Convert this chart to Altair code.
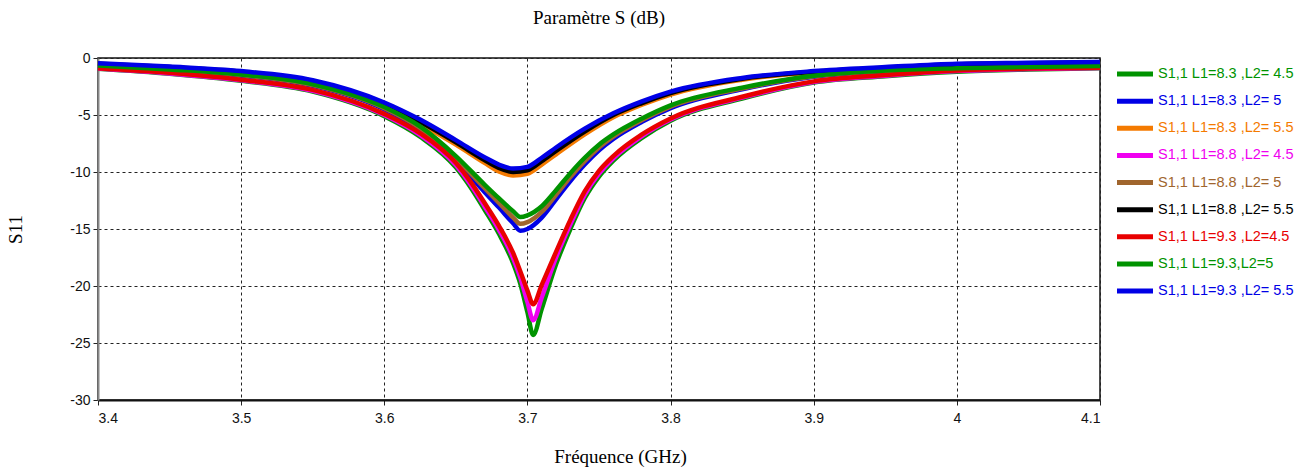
import altair as alt
import pandas as pd

# ---- data ----
labels = [
    "S1,1 L1=8.3 ,L2= 4.5",
    "S1,1 L1=8.3 ,L2= 5",
    "S1,1 L1=8.3 ,L2= 5.5",
    "S1,1 L1=8.8 ,L2= 4.5",
    "S1,1 L1=8.8 ,L2= 5",
    "S1,1 L1=8.8 ,L2= 5.5",
    "S1,1 L1=9.3 ,L2=4.5",
    "S1,1 L1=9.3,L2=5",
    "S1,1 L1=9.3 ,L2= 5.5",
]
colors = ["#009300", "#0000e6", "#f47a00", "#f000f0", "#a0652d",
          "#000000", "#e80000", "#009300", "#0000e6"]

# frequency grids (GHz) for each L2 group
freq_l2_55 = [3.40, 3.45, 3.50, 3.55, 3.60, 3.625, 3.65, 3.67, 3.68, 3.69, 3.70,
              3.71, 3.72, 3.74, 3.76, 3.78, 3.80, 3.85, 3.90, 3.95, 4.00, 4.05, 4.10]
freq_l2_5 = [3.40, 3.45, 3.50, 3.55, 3.60, 3.625, 3.65, 3.67, 3.68, 3.69, 3.695, 3.70,
             3.71, 3.72, 3.73, 3.74, 3.75, 3.76, 3.78, 3.80, 3.85, 3.90, 3.95, 4.00,
             4.05, 4.10]
freq_l2_45 = [3.40, 3.45, 3.50, 3.55, 3.60, 3.625, 3.65, 3.66, 3.67, 3.68, 3.69, 3.695,
              3.70, 3.704, 3.71, 3.72, 3.73, 3.74, 3.75, 3.76, 3.78, 3.80, 3.85, 3.90,
              3.95, 4.00, 4.05, 4.10]

# S11 (dB)
s_83_45 = [-0.94, -1.38, -2.0, -2.95, -5.1, -6.9, -9.6, -11.3, -13.3, -15.4, -18.0, -19.8,
           -22.3, -24.3, -22.0, -18.1, -15.0, -12.3, -10.4, -9.0, -7.0, -5.5, -3.55, -2.15,
           -1.6, -1.2, -1.0, -0.9]
s_83_5 = [-0.72, -1.08, -1.55, -2.45, -4.5, -6.3, -9.0, -11.75, -13.1, -14.5, -15.15, -15.0,
          -14.0, -12.4, -10.8, -9.35, -8.1, -7.1, -5.6, -4.4, -2.75, -1.65, -1.17, -0.97,
          -0.84, -0.76]
s_83_55 = [-0.55, -0.85, -1.25, -2.1, -4.2, -5.8, -7.6, -9.2, -9.95, -10.3, -10.15,
           -9.35, -8.45, -6.7, -5.2, -4.1, -3.2, -1.9, -1.25, -0.9, -0.62, -0.5, -0.42]
s_88_45 = [-0.92, -1.35, -1.95, -2.88, -5.0, -6.75, -9.4, -11.05, -13.0, -15.05, -17.55, -19.25,
           -21.4, -23.0, -21.0, -17.5, -14.6, -12.0, -10.15, -8.8, -6.85, -5.4, -3.48, -2.1,
           -1.55, -1.15, -0.97, -0.88]
s_88_5 = [-0.7, -1.04, -1.5, -2.38, -4.4, -6.15, -8.8, -11.4, -12.7, -14.0, -14.55, -14.4,
          -13.5, -12.0, -10.45, -9.05, -7.85, -6.9, -5.45, -4.27, -2.68, -1.6, -1.14, -0.94,
          -0.81, -0.73]
s_88_55 = [-0.5, -0.8, -1.2, -2.02, -4.05, -5.6, -7.4, -8.95, -9.65, -10.0, -9.85,
           -9.05, -8.15, -6.45, -5.0, -3.95, -3.07, -1.82, -1.2, -0.85, -0.56, -0.45, -0.38]
s_93_45 = [-0.9, -1.3, -1.9, -2.8, -4.9, -6.6, -9.2, -10.8, -12.7, -14.7, -17.1, -18.7,
           -20.4, -21.6, -19.9, -17.0, -14.2, -11.7, -9.9, -8.6, -6.7, -5.3, -3.4, -2.05,
           -1.5, -1.1, -0.93, -0.85]
s_93_5 = [-0.65, -1.0, -1.45, -2.3, -4.3, -6.0, -8.6, -11.1, -12.3, -13.45, -13.95, -13.8,
          -13.0, -11.6, -10.1, -8.75, -7.6, -6.7, -5.3, -4.15, -2.6, -1.55, -1.1, -0.9,
          -0.78, -0.7]
s_93_55 = [-0.45, -0.75, -1.15, -1.95, -3.9, -5.4, -7.2, -8.7, -9.35, -9.7, -9.55,
           -8.75, -7.85, -6.2, -4.85, -3.8, -2.95, -1.75, -1.15, -0.8, -0.5, -0.42, -0.35]

x_ticks = [3.4, 3.5, 3.6, 3.7, 3.8, 3.9, 4.0, 4.1]
y_ticks = [-30, -25, -20, -15, -10, -5, 0]

series = [
    (labels[0], freq_l2_45, s_83_45),
    (labels[1], freq_l2_5, s_83_5),
    (labels[2], freq_l2_55, s_83_55),
    (labels[3], freq_l2_45, s_88_45),
    (labels[4], freq_l2_5, s_88_5),
    (labels[5], freq_l2_55, s_88_55),
    (labels[6], freq_l2_45, s_93_45),
    (labels[7], freq_l2_5, s_93_5),
    (labels[8], freq_l2_55, s_93_55),
]
rows = []
for k, (name, fx, sy) in enumerate(series):
    for f, s in zip(fx, sy):
        rows.append({"series": name, "idx": k, "f": f, "s11": s})
df = pd.DataFrame(rows)
leg = pd.DataFrame({"series": labels, "idx": list(range(len(labels)))})

color = alt.Color("series:N", scale=alt.Scale(domain=labels, range=colors), legend=None)
tick_font = "Liberation Sans"

lines = alt.Chart(df).mark_line(strokeWidth=4.5, interpolate="monotone").encode(
    x=alt.X("f:Q", scale=alt.Scale(domain=[3.4, 4.1], nice=False),
            axis=alt.Axis(values=x_ticks, labelExpr="toString(datum.value)",
                          title="Fréquence (GHz)",
                          titleX=522, titlePadding=22, labelPadding=6, tickSize=5,
                          domainColor="#111", domainWidth=2)),
    y=alt.Y("s11:Q", scale=alt.Scale(domain=[-30, 0], nice=False, zero=False),
            axis=alt.Axis(values=y_ticks, labelExpr="toString(datum.value)",
                          title="S11", titlePadding=44, labelPadding=3,
                          tickSize=5, domainColor="#888", domainWidth=2)),
    color=color,
    detail="idx:O",
    order="idx:O",
)

leg_y = alt.Y("series:N", sort=labels,
              scale=alt.Scale(type="point", range=[16, 233], padding=0), axis=None)
leg_rules = alt.Chart(leg).mark_rule(strokeWidth=5).encode(
    x=alt.value(1019), x2=alt.value(1055), y=leg_y, color=color)
leg_text = alt.Chart(leg).mark_text(
    align="left", baseline="middle", font=tick_font, fontSize=14.5
).encode(x=alt.value(1060), y=leg_y, text="series:N", color=color)
legend_layer = alt.layer(leg_rules, leg_text)

chart = alt.layer(lines, legend_layer).resolve_scale(y="independent").properties(
    width=1002, height=342,
    autosize=alt.AutoSizeParams(type="none"),
    padding={"left": 98, "top": 58, "right": 213, "bottom": 70},
    title=alt.TitleParams("Paramètre S (dB)", font="Liberation Serif", fontSize=19,
                          fontWeight="normal", color="black", offset=23, anchor="middle"),
    background="white",
).configure_view(stroke="#111", strokeWidth=1.5).configure_axis(
    grid=True, gridDash=[3, 3], gridColor="#222", gridOpacity=1, gridWidth=1,
    tickColor="#222", labelFont=tick_font, labelFontSize=14,
    labelColor="#111", titleFont="Liberation Serif", titleFontSize=19,
    titleFontWeight="normal", titleColor="black",
)

chart.save("out.html", embed_options={"renderer": "svg", "actions": False})
